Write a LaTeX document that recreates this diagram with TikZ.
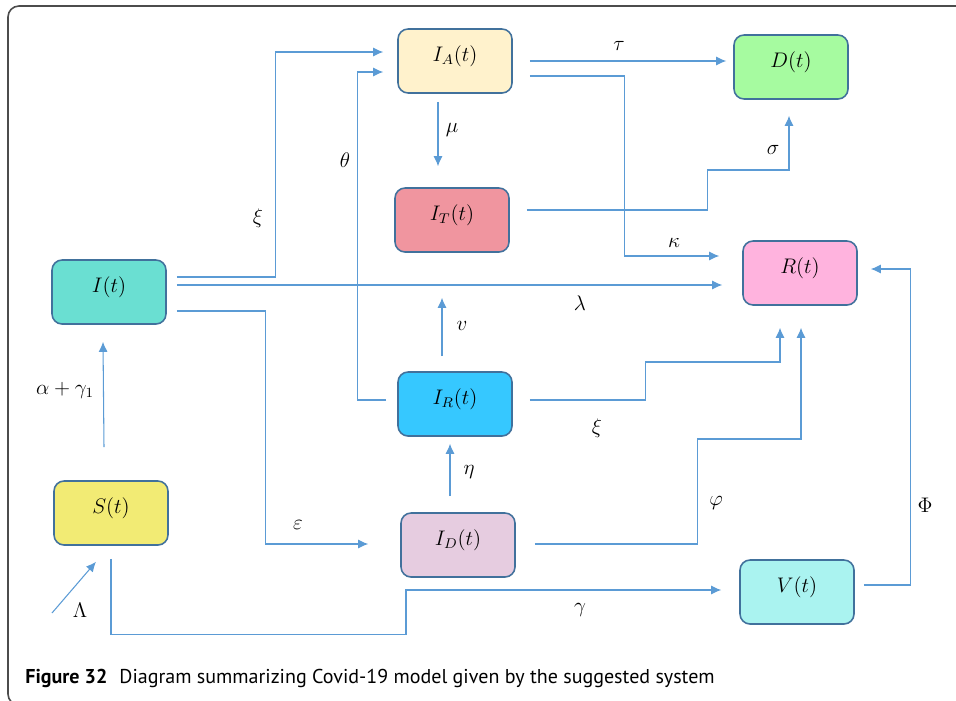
\documentclass[tikz,border=0pt]{standalone}
\usepackage{fontspec}
\newfontfamily\capfont{PT Sans}
\usetikzlibrary{arrows.meta,positioning}
\definecolor{flowblue}{HTML}{5B9BD5}
\definecolor{boxline}{HTML}{41719C}
\definecolor{cIA}{HTML}{FFF2CC}
\definecolor{cD}{HTML}{A6FBA0}
\definecolor{cIT}{HTML}{F0959F}
\definecolor{cR}{HTML}{FFB3DE}
\definecolor{cI}{HTML}{6ADFD2}
\definecolor{cIR}{HTML}{36C8FF}
\definecolor{cS}{HTML}{F2EB74}
\definecolor{cID}{HTML}{E6CCE0}
\definecolor{cV}{HTML}{AAF3F0}
\begin{document}
\begin{tikzpicture}[x=0.02cm,y=-0.02cm,
  box/.style={draw=boxline,line width=0.9pt,rounded corners=0.2cm,
    minimum width=2.28cm,minimum height=1.28cm,inner sep=0pt,
    text height=0.3cm,text depth=0.3cm,font=\large},
  flow/.style={draw=flowblue,line width=0.6pt,-{Latex[length=0.2cm,width=0.18cm]}},
  rate/.style={font=\large}]
\useasboundingbox (0,0) rectangle (956,700);
\draw[line width=0.9pt,draw=black!70,rounded corners=0.22cm] (960,6) -- (8,6) -- (8,705) -- (40,705);

% compartments
\node[box,fill=cIA] (IA) at (455,61) {$I_A(t)$};
\node[box,fill=cD] (D) at (791,67) {$D(t)$};
\node[box,fill=cIT] (IT) at (452,220) {$I_T(t)$};
\node[box,fill=cR] (R) at (800,273) {$R(t)$};
\node[box,fill=cI] (I) at (109,292) {$I(t)$};
\node[box,fill=cIR] (IR) at (455,404) {$I_R(t)$};
\node[box,fill=cS] (S) at (111,513) {$S(t)$};
\node[box,fill=cID] (ID) at (458,545) {$I_D(t)$};
\node[box,fill=cV] (V) at (797,592) {$V(t)$};
\coordinate (lam) at (52,613);

% flows
\draw[flow] ([shift={(10,-15)}]I.east) -- ++(99,0) |- ([shift={(-14,-9)}]IA.west);
\draw[flow] ([shift={(10,-7)}]I.east) -- ([shift={(-20,12)}]R.west);
\draw[flow] ([shift={(10,19)}]I.east) -- ++(89,0) |- ([shift={(-32,-1)}]ID.west);
\draw[flow] ([shift={(-11,-4)}]IR.west) -- ++(-29,0) |- ([shift={(-14,11)}]IA.west);
\draw[flow] ([shift={(-17,8)}]IA.south) -- ([shift={(-14,-21)}]IT.north);
\draw[flow] ([shift={(17,0)}]IA.east) -- ([shift={(-7,-6)}]D.west);
\draw[flow] ([shift={(17,15)}]IA.east) -- ++(95,0) |- ([shift={(-23,-17)}]R.west);
\draw[flow] ([shift={(17,-10)}]IT.east) -- ++(181,0) -- ++(0,-40) -| ([shift={(-2,16)}]D.south);
\draw[flow] ([shift={(-13,-15)}]IR.north) -- ([shift={(-10,45)}]IT.south);
\draw[flow] ([shift={(17,-4)}]IR.east) -- ++(116,0) -- ++(0,-38) -| ([shift={(-20,22)}]R.south);
\draw[flow] ([shift={(-8,-16)}]ID.north) -- ([shift={(-5,7)}]IR.south);
\draw[flow] ([shift={(19,-1)}]ID.east) -- ++(163,0) -- ++(0,-105) -| ([shift={(1,22)}]R.south);
\draw[flow] ([shift={(9,-7)}]V.east) -- ++(47,0) |- ([shift={(13,-4)}]R.east);
\draw[flow] ([shift={(0,13)}]S.south) -- ++(0,76) -- ++(295,0) |- ([shift={(-18,-2)}]V.west);
\draw[flow] (lam) -- ([shift={(-15,16)}]S.south);
\draw[flow] ([shift={(-7,-33)}]S.north) -- ([shift={(-6,17)}]I.south);

% rates
\node[rate] (xi1) at (258,218) {$\xi$};
\node[rate] (lambda) at (580,303) {$\lambda$};
\node[rate] (eps) at (298,525) {$\varepsilon$};
\node[rate] (theta) at (345,160) {$\theta$};
\node[rate] (mu) at (452,130) {$\mu$};
\node[rate] (tau) at (619,46) {$\tau$};
\node[rate] (kappa) at (674,243) {$\kappa$};
\node[rate] (sigma) at (773,150) {$\sigma$};
\node[rate] (v) at (462,326) {$v$};
\node[rate] (xi2) at (597,428) {$\xi$};
\node[rate] (eta) at (469,472) {$\eta$};
\node[rate] (phi) at (716,503) {$\varphi$};
\node[rate] (Phi) at (925,505) {$\Phi$};
\node[rate] (gamma) at (580,610) {$\gamma$};
\node[rate] (Lambda) at (80,610) {$\Lambda$};
\node[rate] (alpha) at (65,390) {$\alpha+\gamma_1$};

\node[anchor=base west,inner sep=0pt,font=\capfont\fontsize{11.4}{14}\selectfont] (cap) at (25,683)
  {\textbf{Figure 32}\hspace{0.6em}Diagram summarizing Covid-19 model given by the suggested system};
\end{tikzpicture}
\end{document}
